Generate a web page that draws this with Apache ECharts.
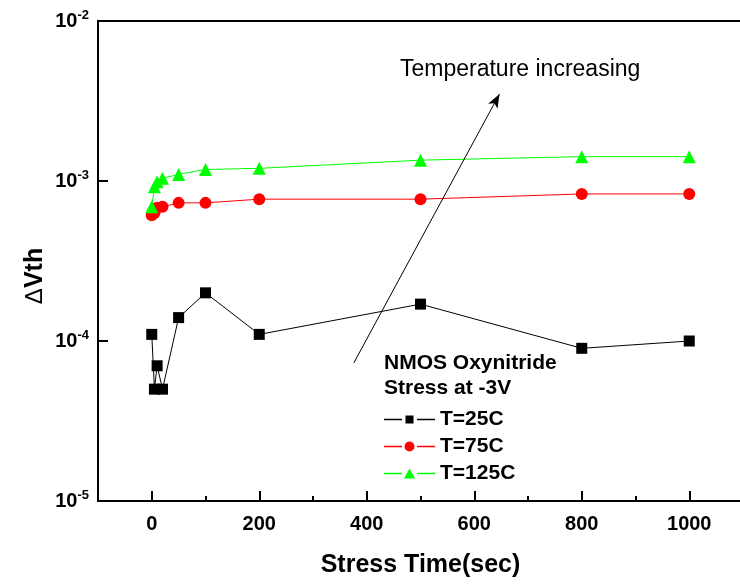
<!DOCTYPE html>
<html><head><meta charset="utf-8">
<script src="https://cdn.jsdelivr.net/npm/echarts@6/dist/echarts.min.js"></script>
<style>html,body{margin:0;padding:0;background:#fff}#c{width:740px;height:584px}</style>
</head><body><div id="c"></div>
<script>
// ---- data ----
const stressTime25 = [0, 5, 10, 20, 50, 100, 200, 500, 800, 1000];
const dVth25 = [1.1e-4, 5.0e-5, 7.0e-5, 5.0e-5, 1.4e-4, 2.0e-4, 1.1e-4, 1.7e-4, 9.0e-5, 1.0e-4];
const stressTime75 = [0, 5, 10, 20, 50, 100, 200, 500, 800, 1000];
const dVth75 = [6.1e-4, 6.3e-4, 6.8e-4, 6.9e-4, 7.3e-4, 7.3e-4, 7.7e-4, 7.7e-4, 8.3e-4, 8.3e-4];
const stressTime125 = [0, 5, 10, 20, 50, 100, 200, 500, 800, 1000];
const dVth125 = [6.9e-4, 9.2e-4, 9.9e-4, 1.04e-3, 1.1e-3, 1.18e-3, 1.2e-3, 1.35e-3, 1.42e-3, 1.42e-3];
const seriesNames = ['T=25C', 'T=75C', 'T=125C'];
const xMajorTicks = [0, 200, 400, 600, 800, 1000];
const xMinorTicks = [100, 300, 500, 700, 900];
const legendTitleLines = ['NMOS Oxynitride', 'Stress at -3V'];
const annotationText = 'Temperature increasing';
const arrowFrom = [376, 7.3e-5];
const arrowTo = [647, 3.5e-3];

const FONT = "'Liberation Sans', Arial, sans-serif";
const pair = (xs, ys) => xs.map((x, i) => [x, ys[i]]);

// legend icons: line - gap - symbol - gap - line (51 x 12 box)
const frame = 'M0 0 Z M51 12 Z ';
const lines = 'M0 5.3 H18 V6.7 H0 Z M33 5.3 H51 V6.7 H33 Z ';
const icons = [
  'path://' + frame + lines + 'M21.5 2 H29.5 V10 H21.5 Z',
  'path://' + frame + lines + 'M20.5 6 A5 5 0 1 0 30.5 6 A5 5 0 1 0 20.5 6 Z',
  'path://' + frame + lines + 'M25.5 1 L31 11 L20 11 Z'
];

const chart = echarts.init(document.getElementById('c'), null, {renderer: 'canvas'});
chart.setOption({
  animation: false,
  backgroundColor: '#fff',
  grid: {left: 98, top: 21, width: 645, height: 480, show: true, borderColor: '#000', borderWidth: 2,
         containLabel: false, outerBoundsMode: 'none'},
  xAxis: [{
    type: 'value', min: -100, max: 1100, interval: 100,
    axisLine: {show: true, onZero: false, lineStyle: {color: '#000', width: 2}},
    axisTick: {show: true, inside: true, length: 10, customValues: xMajorTicks, lineStyle: {color: '#000', width: 2}},
    axisLabel: {customValues: xMajorTicks, formatter: v => String(v), color: '#000', fontFamily: FONT, fontWeight: 'bold', fontSize: 20, margin: 13},
    splitLine: {show: false},
    name: 'Stress Time(sec)', nameLocation: 'middle', nameGap: 52,
    nameTextStyle: {color: '#000', fontFamily: FONT, fontWeight: 'bold', fontSize: 25}
  }, {
    type: 'value', min: -100, max: 1100, interval: 100, position: 'bottom',
    axisLine: {show: false, onZero: false},
    axisTick: {show: true, inside: true, length: 5, customValues: xMinorTicks, lineStyle: {color: '#000', width: 2}},
    axisLabel: {show: false},
    splitLine: {show: false}
  }],
  yAxis: {
    type: 'log', logBase: 10, min: 1e-5, max: 1e-2,
    axisLine: {show: true, onZero: false, lineStyle: {color: '#000', width: 2}},
    axisTick: {show: true, inside: true, length: 10, lineStyle: {color: '#000', width: 2}},
    minorTick: {show: false},
    splitLine: {show: false},
    axisLabel: {
      margin: 9,
      formatter: v => '{b|10}{s|' + Math.round(Math.log10(v)) + '}',
      rich: {
        b: {color: '#000', fontFamily: FONT, fontWeight: 'bold', fontSize: 20},
        s: {color: '#000', fontFamily: FONT, fontWeight: 'bold', fontSize: 13, padding: [0, 0, 12, 0]}
      }
    }
  },
  legend: {
    orient: 'vertical', left: 384, top: 409, padding: 0, itemWidth: 51, itemHeight: 12, itemGap: 6,
    data: seriesNames.map((n, i) => ({name: n, icon: icons[i]})),
    textStyle: {color: '#000', fontFamily: FONT, fontWeight: 'bold', fontSize: 21},
    selectedMode: false
  },
  series: [{
    name: seriesNames[0], type: 'line', data: pair(stressTime25, dVth25),
    symbol: 'rect', symbolSize: 11, color: '#000',
    itemStyle: {color: '#000'}, lineStyle: {color: '#000', width: 1},
    markLine: {
      silent: true, symbol: ['none', 'arrow'], symbolSize: [8, 14],
      lineStyle: {color: '#000', width: 1, type: 'solid'}, label: {show: false},
      data: [[{coord: arrowFrom}, {coord: arrowTo}]]
    }
  }, {
    name: seriesNames[1], type: 'line', data: pair(stressTime75, dVth75),
    symbol: 'circle', symbolSize: 12, color: '#ff0000',
    itemStyle: {color: '#ff0000'}, lineStyle: {color: '#ff0000', width: 1}
  }, {
    name: seriesNames[2], type: 'line', data: pair(stressTime125, dVth125),
    symbol: 'triangle', symbolSize: 13, color: '#00ff00',
    itemStyle: {color: '#00ff00'}, lineStyle: {color: '#00ff00', width: 1}
  }],
  graphic: [
    {type: 'text', x: 400, y: 70, style: {text: annotationText, fill: '#000', font: '23px ' + FONT, verticalAlign: 'middle'}},
    {type: 'text', x: 384, y: 363, style: {text: legendTitleLines[0], fill: '#000', font: 'bold 21px ' + FONT, verticalAlign: 'middle'}},
    {type: 'text', x: 384, y: 388, style: {text: legendTitleLines[1], fill: '#000', font: 'bold 21px ' + FONT, verticalAlign: 'middle'}},
    {type: 'text', x: 35, y: 276, rotation: Math.PI / 2,
     style: {text: '{d|Δ}{v|Vth}', align: 'center', verticalAlign: 'middle',
       rich: {d: {fill: '#000', fontFamily: FONT, fontWeight: 'normal', fontSize: 24},
              v: {fill: '#000', fontFamily: FONT, fontWeight: 'bold', fontSize: 25}}}}
  ]
});
</script></body></html>
